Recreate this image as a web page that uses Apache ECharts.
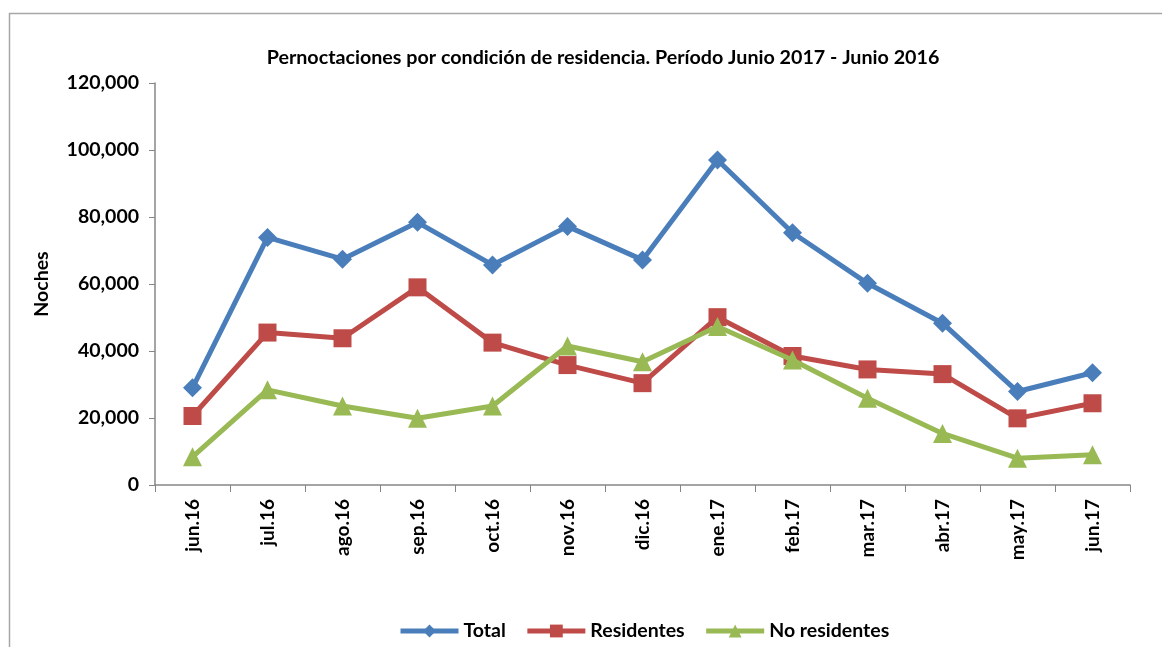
<!DOCTYPE html>
<html>
<head>
<meta charset="utf-8">
<script src="https://cdn.jsdelivr.net/npm/echarts@6/dist/echarts.min.js"></script>
<style>
  html, body { margin: 0; padding: 0; background: #fff; }
  #chart { width: 1162px; height: 647px; }
</style>
</head>
<body>
<div id="chart"></div>
<script>
const months = ["jun.16", "jul.16", "ago.16", "sep.16", "oct.16", "nov.16", "dic.16",
  "ene.17", "feb.17", "mar.17", "abr.17", "may.17", "jun.17"];
const total = [29000, 73900, 67400, 78400, 65700, 77200, 67200, 97000, 75300, 60200, 48300, 27900, 33500];
const residentes = [20600, 45500, 43800, 59000, 42500, 35800, 30400, 50100, 38500, 34500, 33100, 19900, 24400];
const noResidentes = [8400, 28400, 23600, 19900, 23600, 41500, 36800, 47300, 37300, 25900, 15400, 8000, 9000];

const font = "Lato, 'Open Sans', sans-serif";
const axisGrey = "#868686";

const chart = echarts.init(document.getElementById("chart"));

const options = {
  animation: false,
  textStyle: { fontFamily: font },
  title: {
    text: "Pernoctaciones por condición de residencia. Período Junio 2017 - Junio 2016",
    left: 598,
    textAlign: "center",
    top: 43,
    textStyle: { fontFamily: font, fontSize: 19.7, fontWeight: "bold", color: "#000" },
  },
  graphic: [
    {
      type: "rect",
      shape: { x: 9.5, y: 13.5, width: 1170, height: 660 },
      style: { fill: "none", stroke: "#a6a6a6", lineWidth: 1.5 },
      silent: true,
    },
  ],
  legend: {
    top: 616,
    left: 393,
    itemWidth: 58,
    itemHeight: 16,
    itemGap: 19,
    lineStyle: { width: 5 },
    textStyle: { fontFamily: font, fontSize: 19.5, fontWeight: "bold", color: "#000" },
    data: ["Total", "Residentes", "No residentes"],
  },
  grid: { left: 155, right: 32, top: 83, bottom: 162 },
  xAxis: {
    type: "category",
    data: months,
    boundaryGap: true,
    axisLine: { lineStyle: { color: axisGrey, width: 1.5 } },
    axisTick: { show: true, length: 7, alignWithLabel: false, lineStyle: { color: axisGrey } },
    axisLabel: {
      rotate: 90,
      margin: 14,
      fontFamily: font,
      fontSize: 19,
      fontWeight: "bold",
      color: "#000",
    },
  },
  yAxis: {
    type: "value",
    min: 0,
    max: 120000,
    interval: 20000,
    name: "Noches",
    nameLocation: "middle",
    nameGap: 103,
    nameTextStyle: { fontFamily: font, fontSize: 19.5, fontWeight: "bold", color: "#000" },
    splitLine: { show: false },
    axisLine: { show: true, lineStyle: { color: axisGrey, width: 1.5 } },
    axisTick: { show: true, length: 6, lineStyle: { color: axisGrey } },
    axisLabel: {
      margin: 16,
      fontFamily: font,
      fontSize: 19.5,
      fontWeight: "bold",
      color: "#000",
      formatter: (v) => v.toLocaleString("en-US"),
    },
  },
  series: [
    {
      name: "Total",
      type: "line",
      data: total,
      symbol: "diamond",
      symbolSize: 19,
      lineStyle: { color: "#4a7ebb", width: 5 },
      itemStyle: { color: "#4a7ebb" },
      z: 3,
    },
    {
      name: "Residentes",
      type: "line",
      data: residentes,
      symbol: "rect",
      symbolSize: 18,
      lineStyle: { color: "#be4b48", width: 5 },
      itemStyle: { color: "#be4b48" },
      z: 2,
    },
    {
      name: "No residentes",
      type: "line",
      data: noResidentes,
      symbol: "triangle",
      symbolSize: 19,
      lineStyle: { color: "#98b954", width: 5 },
      itemStyle: { color: "#98b954" },
      z: 4,
    },
  ],
};

chart.setOption(options);
</script>
</body>
</html>
